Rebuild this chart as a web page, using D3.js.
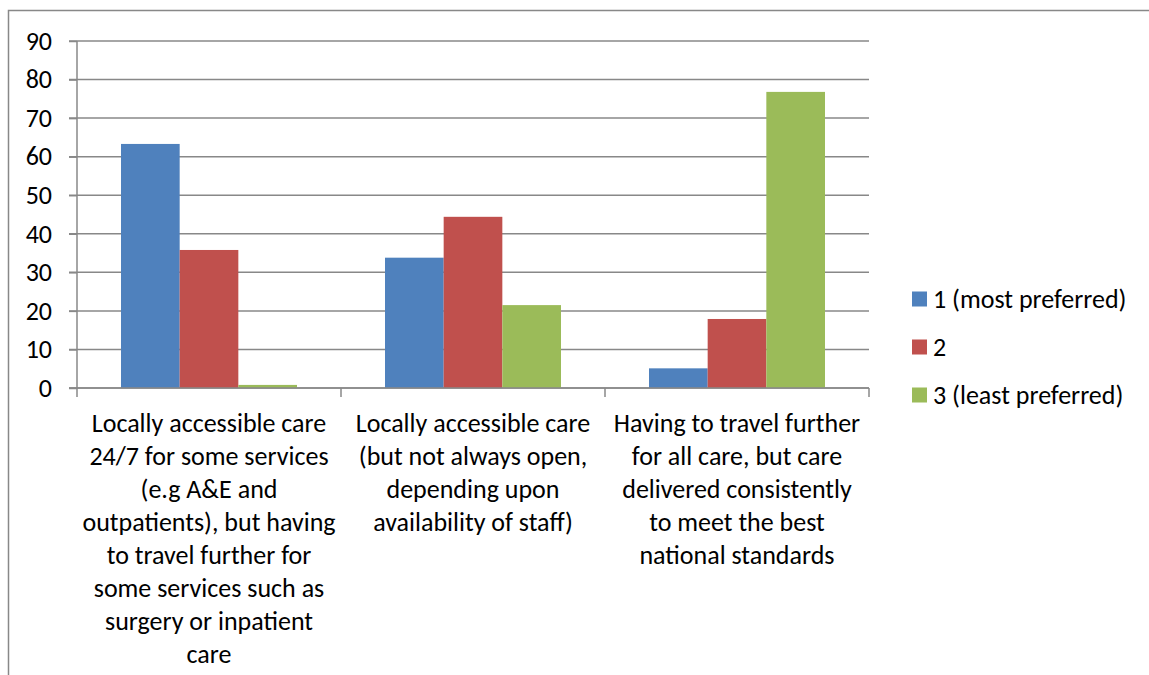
<!DOCTYPE html>
<html>
<head>
<meta charset="utf-8">
<script src="https://cdn.jsdelivr.net/npm/d3@7"></script>
<style>
  html, body { margin: 0; padding: 0; background: #fff; }
  svg { display: block; }
  text { font-family: Carlito, Lato, "Liberation Sans", sans-serif; fill: #000; }
</style>
</head>
<body>
<svg id="chart" width="1149" height="675"></svg>
<script>
const categories = [
  ["Locally accessible care", "24/7 for some services", "(e.g A&E and", "outpatients), but having", "to travel further for", "some services such as", "surgery or inpatient", "care"],
  ["Locally accessible care", "(but not always open,", "depending upon", "availability of staff)"],
  ["Having to travel further", "for all care, but care", "delivered consistently", "to meet the best", "national standards"]
];
const seriesNames = ["1 (most preferred)", "2", "3 (least preferred)"];
const seriesColors = ["#4F81BD", "#C0504D", "#9BBB59"];
const mostPreferred = [63.3, 33.8, 5.1];
const second = [35.8, 44.4, 17.9];
const leastPreferred = [0.8, 21.5, 76.8];
const yTicks = [0, 10, 20, 30, 40, 50, 60, 70, 80, 90];

(function () {
const series = [mostPreferred, second, leastPreferred];
const svg = d3.select("#chart");
const W = 1149, H = 675;
const pLeft = 77, pRight = 869, pTop = 41, pBottom = 388;
const fontSize = 26;
const gridColor = "#888888";

// chart area border (extends past window right and bottom)
svg.append("rect").attr("x", 8.5).attr("y", 10.5).attr("width", W + 10).attr("height", H + 10)
  .attr("fill", "none").attr("stroke", "#888888").attr("stroke-width", 1.5);

const x0 = d3.scaleBand().domain(d3.range(categories.length)).range([pLeft, pRight]).paddingInner(0).paddingOuter(0);
const groupPad = x0.bandwidth() / 6;
const x1 = d3.scaleBand().domain(d3.range(series.length)).range([groupPad, x0.bandwidth() - groupPad]).padding(0);
const y = d3.scaleLinear().domain([0, 90]).range([pBottom, pTop]);

// gridlines
svg.append("g").selectAll("line").data(yTicks).join("line")
  .attr("x1", pLeft - 8).attr("x2", pRight)
  .attr("y1", d => y(d)).attr("y2", d => y(d))
  .attr("stroke", gridColor).attr("stroke-width", 1.5);

// bars
const groups = svg.append("g").selectAll("g").data(categories).join("g")
  .attr("transform", (d, i) => `translate(${x0(i)},0)`);
groups.selectAll("rect").data((d, i) => series.map((s, j) => ({ j, v: s[i] }))).join("rect")
  .attr("x", d => x1(d.j)).attr("width", x1.bandwidth())
  .attr("y", d => y(d.v)).attr("height", d => y(0) - y(d.v))
  .attr("fill", d => seriesColors[d.j]);

// y axis
const yAxis = d3.axisLeft(y).tickValues(yTicks).tickSize(8).tickPadding(17);
const gy = svg.append("g").attr("transform", `translate(${pLeft},0)`).call(yAxis);
gy.select(".domain").attr("stroke", gridColor).attr("stroke-width", 1.5).attr("d", `M0,${pTop}V${pBottom + 1}`);
gy.selectAll(".tick line").attr("stroke", gridColor).attr("stroke-width", 1.5);
gy.selectAll(".tick text").style("font-size", fontSize + "px").style("font-family", "Carlito, Lato, sans-serif").attr("fill", "#000");

// x axis
const gx = svg.append("g").attr("transform", `translate(0,${pBottom})`);
gx.append("line").attr("x1", pLeft - 8).attr("x2", pRight).attr("y1", 0).attr("y2", 0)
  .attr("stroke", gridColor).attr("stroke-width", 1.5);
const tickXs = d3.range(categories.length + 1).map(i => i < categories.length ? x0(i) : x0(i - 1) + x0.bandwidth());
gx.selectAll("line.tk").data(tickXs).join("line").attr("class", "tk")
  .attr("x1", d => d).attr("x2", d => d).attr("y1", 0).attr("y2", 9)
  .attr("stroke", gridColor).attr("stroke-width", 1.5);

// category labels
const lineH = 33;
categories.forEach((lines, i) => {
  const cx = x0(i) + x0.bandwidth() / 2;
  const t = svg.append("text").attr("text-anchor", "middle").style("font-size", fontSize + "px");
  lines.forEach((ln, k) => {
    t.append("tspan").attr("x", cx).attr("y", 432 + k * lineH).text(ln);
  });
});

// legend
const legY = [299, 347, 395];
seriesNames.forEach((name, j) => {
  svg.append("rect").attr("x", 912).attr("y", legY[j] - 7.5).attr("width", 15).attr("height", 15)
    .attr("fill", seriesColors[j]);
  svg.append("text").attr("x", 933).attr("y", legY[j]).attr("dy", "0.35em")
    .style("font-size", fontSize + "px").text(name);
});
})();
</script>
</body>
</html>
